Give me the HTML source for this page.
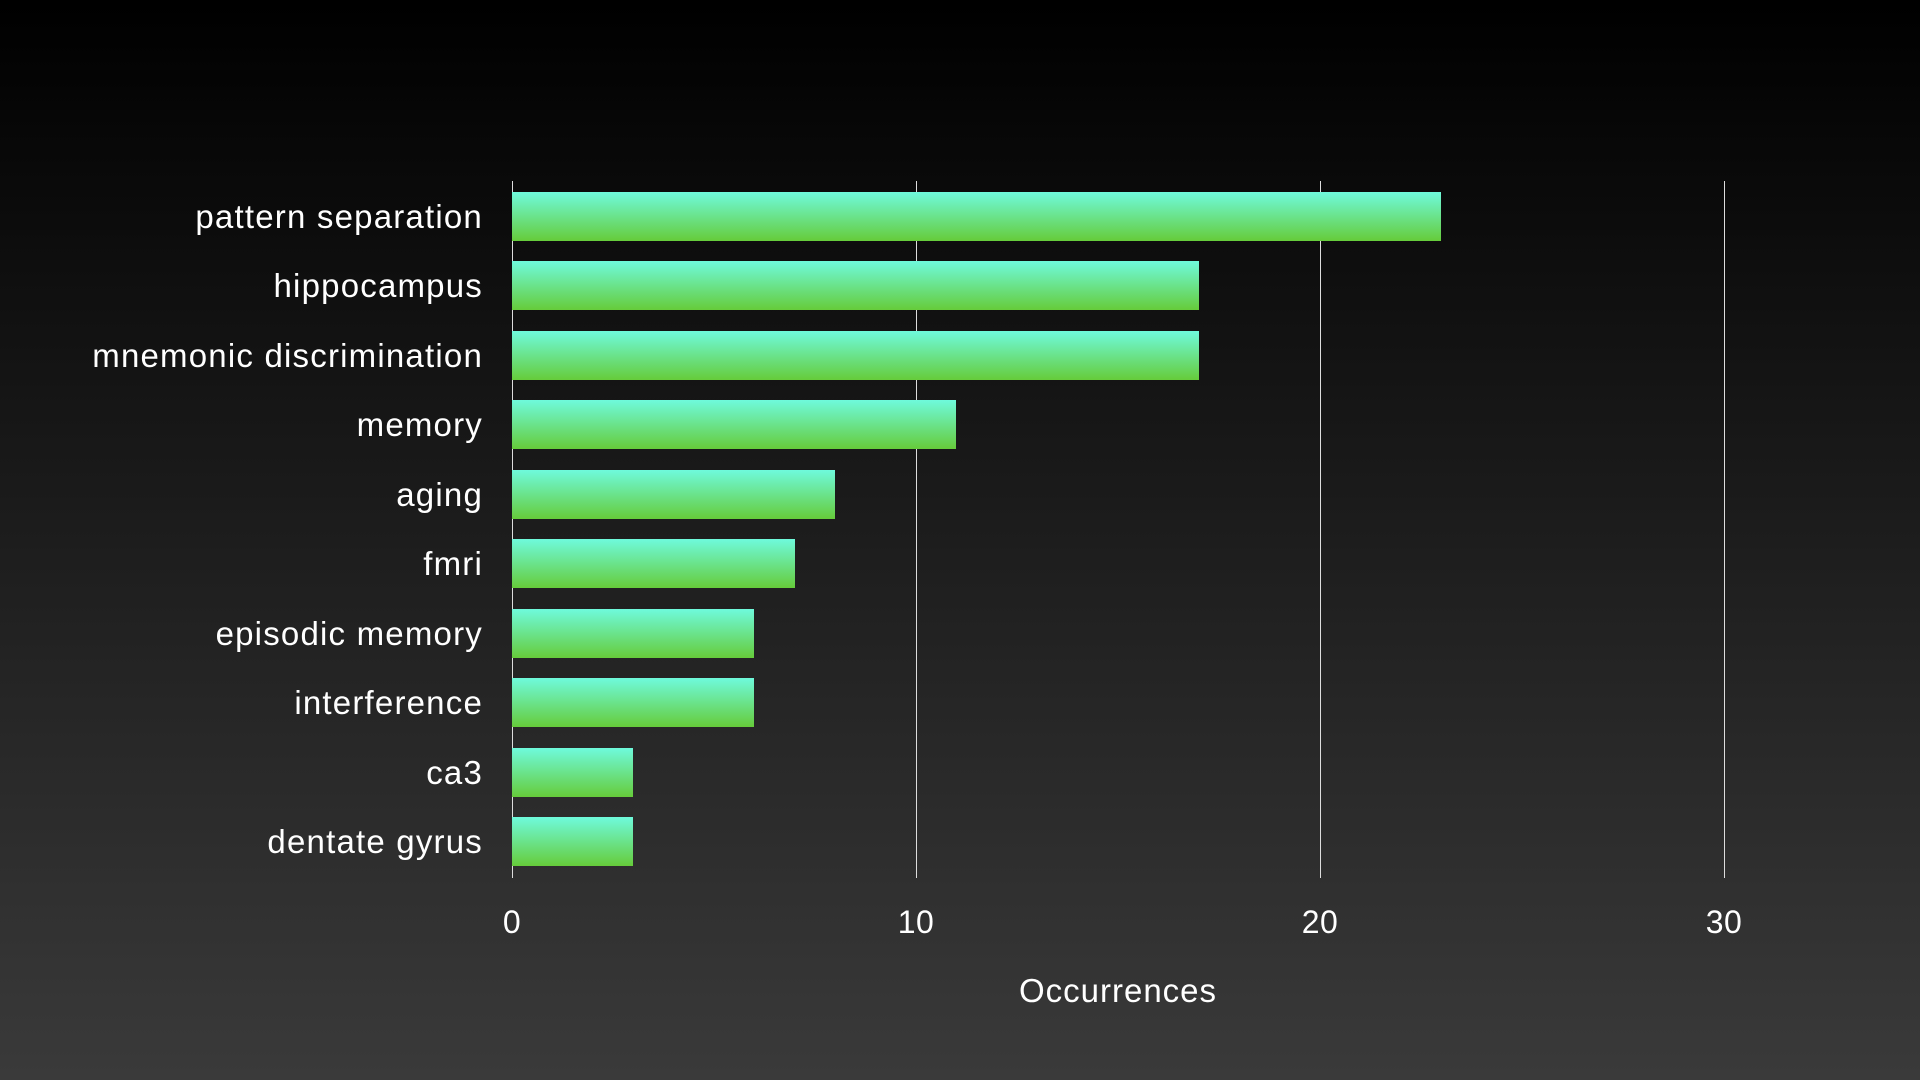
<!DOCTYPE html>
<html><head><style>
html,body{margin:0;padding:0}
body{width:1920px;height:1080px;background:linear-gradient(#000 0%,#1a1a1a 45%,#3a3a3a 100%);position:relative;overflow:hidden;font-family:"Liberation Sans",sans-serif;color:#fff}
.g{position:absolute;top:181px;height:697px;width:1px;background:#ddd}
.b{position:absolute;left:512px;height:49px;background:linear-gradient(#6ffadc,#66cc3a)}
.l{position:absolute;right:1437px;font-size:33px;letter-spacing:1.2px;line-height:49px;white-space:nowrap}
.t{position:absolute;top:904px;font-size:32px;width:100px;margin-left:-50px;text-align:center;letter-spacing:0.5px}
</style></head><body>
<div class="g" style="left:512px"></div>
<div class="g" style="left:916px"></div>
<div class="g" style="left:1320px"></div>
<div class="g" style="left:1724px"></div>
<div class="b" style="top:192px;width:929px"></div><div class="l" style="top:192px">pattern separation</div>
<div class="b" style="top:261px;width:687px"></div><div class="l" style="top:261px">hippocampus</div>
<div class="b" style="top:331px;width:687px"></div><div class="l" style="top:331px">mnemonic discrimination</div>
<div class="b" style="top:400px;width:444px"></div><div class="l" style="top:400px">memory</div>
<div class="b" style="top:470px;width:323px"></div><div class="l" style="top:470px">aging</div>
<div class="b" style="top:539px;width:283px"></div><div class="l" style="top:539px">fmri</div>
<div class="b" style="top:609px;width:242px"></div><div class="l" style="top:609px">episodic memory</div>
<div class="b" style="top:678px;width:242px"></div><div class="l" style="top:678px">interference</div>
<div class="b" style="top:748px;width:121px"></div><div class="l" style="top:748px">ca3</div>
<div class="b" style="top:817px;width:121px"></div><div class="l" style="top:817px">dentate gyrus</div>
<div class="t" style="left:512px">0</div>
<div class="t" style="left:916px">10</div>
<div class="t" style="left:1320px">20</div>
<div class="t" style="left:1724px">30</div>
<div style="position:absolute;top:972px;left:918px;width:400px;text-align:center;font-size:33px;letter-spacing:1px">Occurrences</div>
</body></html>
